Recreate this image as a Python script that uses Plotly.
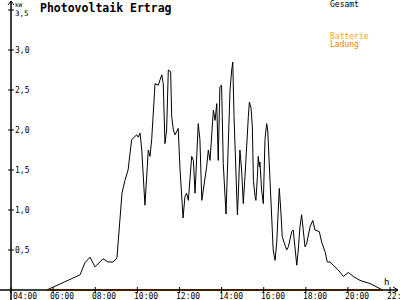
import plotly.graph_objects as go

# ---- data ----
hours = [5.70, 7.28, 7.51, 7.75, 7.99, 8.37, 8.61, 8.84, 9.03, 9.13, 9.27, 9.41, 9.56,
         9.73, 9.89, 9.97, 10.04, 10.13, 10.21, 10.28, 10.36, 10.52, 10.60, 10.68, 10.76,
         10.84, 10.99, 11.16, 11.23, 11.31, 11.39, 11.47, 11.58, 11.63, 11.71, 11.79, 11.94,
         12.02, 12.17, 12.26, 12.34, 12.42, 12.58, 12.66, 12.74, 12.89, 12.97, 13.06, 13.29,
         13.37, 13.45, 13.61, 13.69, 13.77, 13.84, 13.92, 14.00, 14.08, 14.21, 14.40, 14.48,
         14.53, 14.59, 14.64, 14.72, 14.75, 14.79, 14.87, 14.95, 15.03, 15.11, 15.19, 15.27,
         15.32, 15.40, 15.46, 15.51, 15.59, 15.63, 15.70, 15.74, 15.79, 15.82, 15.90, 15.98,
         16.06, 16.14, 16.19, 16.25, 16.30, 16.38, 16.45, 16.54, 16.62, 16.69, 16.74, 16.81,
         16.88, 16.96, 17.09, 17.17, 17.25, 17.33, 17.40, 17.49, 17.57, 17.64, 17.72, 17.80,
         17.88, 17.96, 18.04, 18.20, 18.33, 18.43, 18.64, 18.75, 18.91, 19.02, 19.15, 19.30,
         19.54, 19.78, 20.02, 20.25, 20.57, 21.05, 21.52, 21.65]
gesamt = [0.00, 0.19, 0.34, 0.41, 0.29, 0.39, 0.35, 0.35, 0.40, 0.79, 1.21, 1.37, 1.50,
          1.88, 1.92, 1.94, 1.91, 1.96, 1.75, 1.33, 1.06, 1.75, 1.67, 1.88, 2.25,
          2.58, 2.56, 2.69, 2.58, 1.83, 2.00, 2.75, 2.73, 2.17, 2.00, 1.94, 2.02,
          1.54, 0.90, 1.17, 1.21, 1.12, 1.67, 1.62, 1.21, 2.08, 1.88, 1.12, 1.54,
          1.75, 1.62, 2.25, 2.12, 2.33, 1.62, 2.54, 2.56, 1.58, 0.95, 2.50, 2.75,
          2.85, 2.17, 1.71, 1.08, 0.94, 1.17, 1.75, 1.50, 1.08, 1.42, 1.88, 2.17,
          2.35, 2.27, 2.04, 1.37, 1.17, 1.12, 1.42, 1.67, 1.54, 1.60, 1.25, 1.08,
          1.88, 2.08, 2.00, 1.62, 1.33, 0.83, 0.50, 0.37, 0.60, 1.00, 1.27, 1.00,
          0.67, 0.60, 0.50, 0.54, 0.62, 0.73, 0.75, 0.46, 0.31, 0.50, 0.79, 0.94,
          0.71, 0.54, 0.58, 0.79, 0.87, 0.75, 0.73, 0.60, 0.48, 0.35, 0.35, 0.31,
          0.25, 0.17, 0.22, 0.17, 0.12, 0.08, 0.02, 0.00]
ladung_hours = [5.70, 21.65]
ladung = [0.0, 0.0]

x_ticks = [4, 6, 8, 10, 12, 14, 16, 18, 20, 22]
x_ticktext = ["04:00", "06:00", "08:00", "10:00", "12:00", "14:00", "16:00", "18:00", "20:00", "22:"]
y_ticks = [0.5, 1.0, 1.5, 2.0, 2.5, 3.0, 3.5]
y_ticktext = ["0,5", "1,0", "1,5", "2,0", "2,5", "3,0", "3,5"]

# ---- geometry helpers (pixel <-> data for decorations) ----
PXH = 21.06          # pixels per hour
PXV = 80.0           # pixels per kW
X0 = 4 - 11 / PXH    # hour at pixel x=0
X1 = X0 + 400 / PXH
Y0 = -10 / PXV       # kW at pixel y=300
Y1 = 290 / PXV       # kW at pixel y=0

def hx(px):
    return X0 + px / PXH

def vy(py):
    return (290 - py) / PXV

fig = go.Figure()
fig.add_trace(go.Scatter(x=hours, y=gesamt, mode="lines",
                         line=dict(color="black", width=1), name="Gesamt"))

shapes = []
blk = dict(color="black", width=1.5)
# x axis line + arrow
shapes.append(dict(type="line", x0=hx(0), x1=hx(398), y0=0, y1=0, line=blk))
shapes.append(dict(type="line", x0=hx(393), x1=hx(398), y0=vy(287), y1=0, line=dict(color="black", width=1)))
shapes.append(dict(type="line", x0=hx(393), x1=hx(398), y0=vy(293), y1=0, line=dict(color="black", width=1)))
# y axis line + arrow
shapes.append(dict(type="line", x0=4, x1=4, y0=Y0, y1=vy(1), line=blk))
shapes.append(dict(type="line", x0=hx(8), x1=4, y0=vy(5), y1=vy(1), line=dict(color="black", width=1)))
shapes.append(dict(type="line", x0=hx(14), x1=4, y0=vy(5), y1=vy(1), line=dict(color="black", width=1)))
for v in y_ticks:
    shapes.append(dict(type="line", x0=hx(8), x1=hx(14), y0=v, y1=v, line=dict(color="black", width=1)))
for h in x_ticks:
    shapes.append(dict(type="line", x0=h, x1=h, y0=vy(287), y1=vy(293), line=dict(color="black", width=1)))

fig.add_trace(go.Scatter(x=ladung_hours, y=ladung, mode="lines",
                         line=dict(color="#FF8000", width=2), name="Ladung"))

mono = "DejaVu Sans Mono"
ann = []
for v, t in zip(y_ticks, y_ticktext):
    if v == 3.5:
        ann.append(dict(x=4, y=vy(8), text=t, showarrow=False, xanchor="left", yanchor="top",
                        xshift=3, borderpad=0, font=dict(family=mono, size=7.5, color="black")))
    else:
        ann.append(dict(x=4, y=v, text=t, showarrow=False, xanchor="left", yanchor="middle",
                        xshift=3, borderpad=0, font=dict(family=mono, size=8, color="black")))
for i, (h, t) in enumerate(zip(x_ticks, x_ticktext)):
    ann.append(dict(x=h, y=0, text=t, showarrow=False, xanchor="left", yanchor="middle",
                    xshift=(0 if i == 0 else -5), yshift=-6,
                    font=dict(family=mono, size=8, color="black")))
ann.append(dict(x=4, y=vy(0), text="kW", showarrow=False, xanchor="left", yanchor="top",
                xshift=3, borderpad=0, font=dict(family=mono, size=6, color="black")))
ann.append(dict(x=hx(386), y=vy(282), text="h", showarrow=False, xanchor="center", yanchor="middle",
                font=dict(family=mono, size=9, color="black")))
ann.append(dict(x=hx(39), y=vy(7.5), text="<b>Photovoltaik Ertrag</b>", showarrow=False,
                xanchor="left", yanchor="middle", xshift=-1,
                font=dict(family=mono, size=11.5, color="black")))
ann.append(dict(x=hx(329), y=vy(4.5), text="Gesamt", showarrow=False, xanchor="left", yanchor="middle",
                xshift=-1, font=dict(family=mono, size=8, color="black")))
ann.append(dict(x=hx(329), y=vy(36), text="Batterie", showarrow=False, xanchor="left", yanchor="middle",
                xshift=-1, font=dict(family=mono, size=8, color="#FFAA00")))
ann.append(dict(x=hx(329), y=vy(44), text="Ladung", showarrow=False, xanchor="left", yanchor="middle",
                xshift=-1, font=dict(family=mono, size=8, color="#FF8000")))

fig.update_layout(
    width=400, height=300,
    margin=dict(l=0, r=0, t=0, b=0),
    paper_bgcolor="white", plot_bgcolor="white",
    showlegend=False,
    xaxis=dict(range=[X0, X1], visible=False, fixedrange=True),
    yaxis=dict(range=[Y0, Y1], visible=False, fixedrange=True),
    shapes=shapes, annotations=ann,
)
fig.write_html("out.html")
